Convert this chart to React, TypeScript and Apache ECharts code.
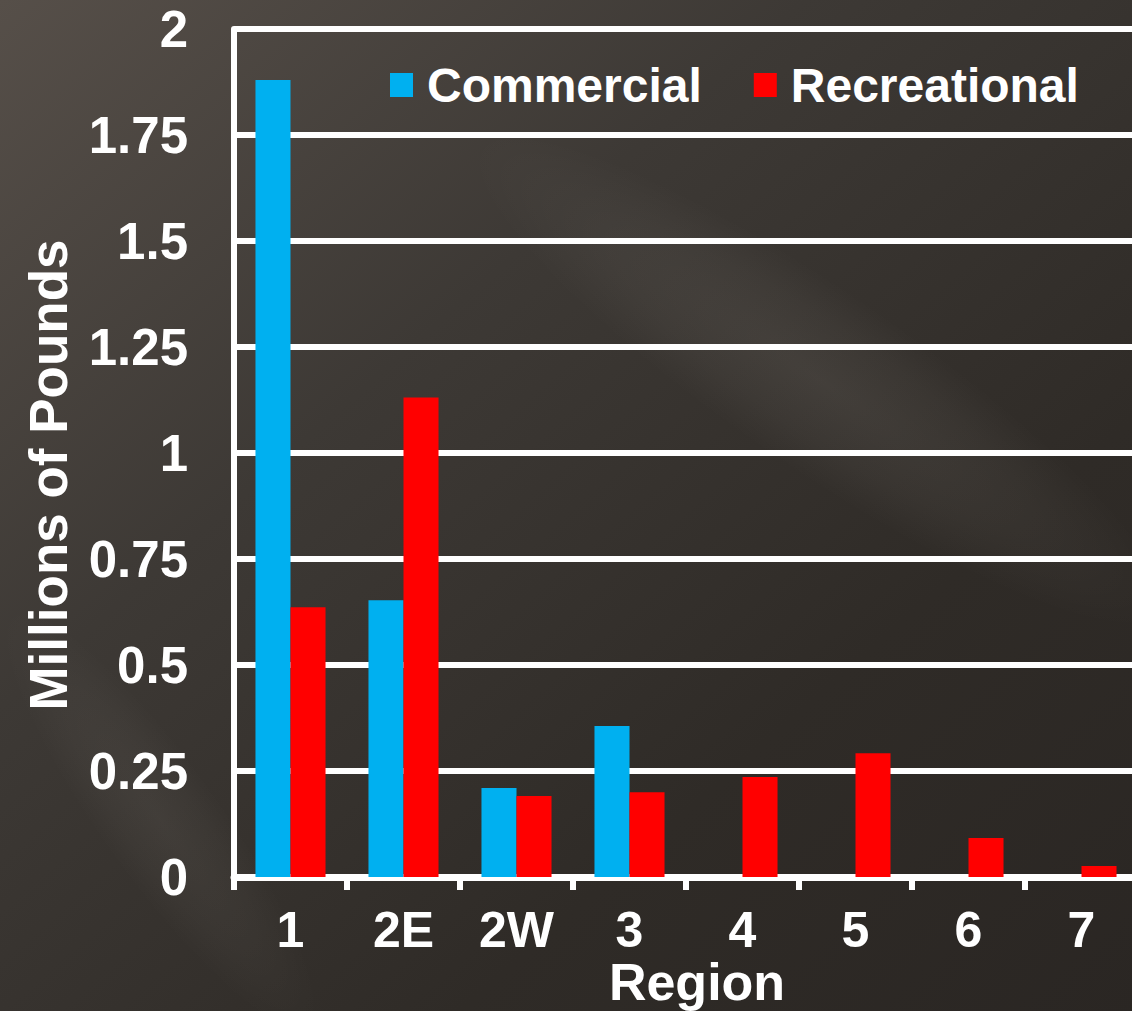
import React, { useEffect, useRef } from "react";
import * as echarts from "echarts";

const categories = ["1", "2E", "2W", "3", "4", "5", "6", "7"];
const commercial = [1.88, 0.653, 0.21, 0.356, null, null, null, null];
const recreational = [0.636, 1.131, 0.191, 0.2, 0.236, 0.292, 0.092, 0.026];
const yMin = 0;
const yMax = 2;
const yInterval = 0.25;
const xTitle = "Region";
const yTitle = "Millions of Pounds";

const FONT = "'Liberation Sans', Arial, sans-serif";

export default function App() {
  const ref = useRef<HTMLDivElement>(null);
  useEffect(() => {
    if (!ref.current) return;
    const chart = echarts.init(ref.current, undefined, { renderer: "svg" });
    const glow = (a: number) =>
      new echarts.graphic.RadialGradient(0.5, 0.5, 0.5, [
        { offset: 0, color: `rgba(255,245,235,${a})` },
        { offset: 0.6, color: `rgba(255,245,235,${a * 0.5})` },
        { offset: 1, color: "rgba(255,245,235,0)" },
      ]);
    chart.setOption({
      animation: false,
      backgroundColor: new echarts.graphic.LinearGradient(0, 0, 1, 1, [
        { offset: 0, color: "#564f49" },
        { offset: 0.35, color: "#3d3935" },
        { offset: 0.7, color: "#2f2b27" },
        { offset: 1, color: "#2a2623" },
      ]),
      textStyle: { fontFamily: FONT },
      grid: { left: 234, top: 29, bottom: 134, width: 904 },
      legend: {
        left: 385,
        top: 56,
        icon: "rect",
        itemWidth: 23,
        itemHeight: 24,
        itemGap: 52,
        textStyle: { color: "#ffffff", fontSize: 48, fontWeight: "bold", fontFamily: FONT, padding: [0, 0, 0, 9] },
        data: ["Commercial", "Recreational"],
      },
      xAxis: {
        type: "category",
        data: categories,
        axisLine: { lineStyle: { color: "#ffffff", width: 7 } },
        axisTick: { show: true, length: 13, lineStyle: { color: "#ffffff", width: 6 } },
        axisLabel: { color: "#ffffff", fontSize: 50, lineHeight: 40, fontWeight: "bold", fontFamily: FONT, margin: 33 },
      },
      yAxis: {
        type: "value",
        min: yMin,
        max: yMax,
        interval: yInterval,
        axisLine: { show: true, lineStyle: { color: "#ffffff", width: 6 } },
        axisTick: { show: false },
        splitLine: { lineStyle: { color: "#ffffff", width: 6 } },
        axisLabel: { color: "#ffffff", fontSize: 51, fontWeight: "bold", fontFamily: FONT, margin: 46 },
      },
      graphic: [
        {
          type: "ellipse",
          z: -10,
          silent: true,
          x: 820,
          y: 380,
          rotation: -0.6,
          shape: { cx: 0, cy: 0, rx: 420, ry: 90 },
          style: { fill: glow(0.07) },
        },
        {
          type: "ellipse",
          z: -10,
          silent: true,
          x: 160,
          y: 820,
          rotation: -0.95,
          shape: { cx: 0, cy: 0, rx: 260, ry: 60 },
          style: { fill: glow(0.05) },
        },
        {
          type: "text",
          x: 48,
          y: 475,
          rotation: Math.PI / 2,
          style: {
            text: yTitle,
            fill: "#ffffff",
            font: `bold 53px ${FONT}`,
            textAlign: "center",
            textVerticalAlign: "middle",
          },
        },
        {
          type: "text",
          x: 697,
          y: 982,
          style: {
            text: xTitle,
            fill: "#ffffff",
            font: `bold 52px ${FONT}`,
            lineHeight: 44,
            textAlign: "center",
            textVerticalAlign: "middle",
          },
        },
      ],
      series: [
        {
          name: "Commercial",
          type: "bar",
          data: commercial,
          barGap: "0%",
          barCategoryGap: "38%",
          itemStyle: { color: "#00b0f0" },
        },
        {
          name: "Recreational",
          type: "bar",
          data: recreational,
          barGap: "0%",
          barCategoryGap: "38%",
          itemStyle: { color: "#ff0000" },
        },
      ],
    });
    return () => chart.dispose();
  }, []);
  return (
    <div style={{ position: "fixed", left: 0, top: 0, width: 1132, height: 1011, overflow: "hidden" }}>
      <div ref={ref} style={{ width: 1150, height: 1011 }} />
    </div>
  );
}
